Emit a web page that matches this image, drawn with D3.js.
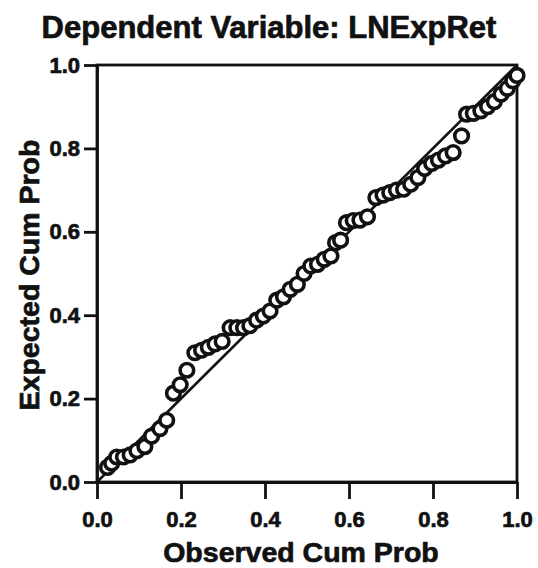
<!DOCTYPE html>
<html>
<head>
<meta charset="utf-8">
<script src="https://cdn.jsdelivr.net/npm/d3@7"></script>
<style>
  body { margin: 0; background: #fff; }
  text { font-family: "Liberation Sans", Arial, sans-serif; font-weight: bold; fill: #111; stroke: #111; stroke-width: 0.7px; }
</style>
</head>
<body>
<div class="pp-figure"></div>
<script>
const w = 538;
const h = 568;

// chart values
const title = "Dependent Variable: LNExpRet";
const xLabel = "Observed Cum Prob";
const yLabel = "Expected Cum Prob";
const tickValues = [0, 0.2, 0.4, 0.6, 0.8, 1.0];

const observed = [
  0.025, 0.035, 0.047, 0.063, 0.079, 0.095, 0.114, 0.13, 0.15, 0.166,
  0.182, 0.198, 0.214, 0.233, 0.249, 0.265, 0.281, 0.298, 0.317, 0.333,
  0.349, 0.364, 0.38, 0.396, 0.412, 0.428, 0.444, 0.46, 0.477, 0.493,
  0.509, 0.525, 0.541, 0.557, 0.568, 0.58, 0.594, 0.61, 0.626, 0.644,
  0.664, 0.681, 0.697, 0.713, 0.73, 0.747, 0.764, 0.78, 0.797, 0.813,
  0.83, 0.848, 0.868, 0.88, 0.896, 0.914, 0.93, 0.946, 0.962, 0.977,
  0.99, 1.0
];
const expected = [
  0.035, 0.045, 0.06, 0.06, 0.065, 0.075, 0.085, 0.11, 0.128, 0.148,
  0.213, 0.233, 0.268, 0.31, 0.316, 0.323, 0.331, 0.337, 0.37, 0.37,
  0.37, 0.375, 0.388, 0.398, 0.41, 0.436, 0.444, 0.462, 0.474, 0.5,
  0.518, 0.522, 0.534, 0.542, 0.574, 0.58, 0.622, 0.627, 0.628, 0.636,
  0.682, 0.688, 0.694, 0.7, 0.702, 0.714, 0.73, 0.752, 0.764, 0.772,
  0.782, 0.79, 0.83, 0.882, 0.884, 0.89, 0.9, 0.912, 0.93, 0.944,
  0.962, 0.975
];

const margin = {top: 65, right: 21, bottom: 86, left: 97};

let svg = d3.select("body").select(".pp-figure")
    .append("svg")
    .attr("width", w)
    .attr("height", h);

let x = d3.scaleLinear()
    .domain([0, 1])
    .range([margin.left, w - margin.right]);

let y = d3.scaleLinear()
    .domain([0, 1])
    .range([h - margin.bottom, margin.top]);

// frame
svg.append("rect")
    .attr("x", x(0))
    .attr("y", y(1))
    .attr("width", x(1) - x(0))
    .attr("height", y(0) - y(1))
    .attr("fill", "none")
    .attr("stroke", "#111")
    .attr("stroke-width", 2.8);

let xAxis = svg.append("g")
    .attr("transform", "translate(0," + y(0) + ")")
    .call(d3.axisBottom(x).tickValues(tickValues).tickFormat(d3.format(".1f"))
        .tickSize(17).tickSizeOuter(0).tickPadding(12));

let yAxis = svg.append("g")
    .attr("transform", "translate(" + x(0) + ",0)")
    .call(d3.axisLeft(y).tickValues(tickValues).tickFormat(d3.format(".1f"))
        .tickSize(13).tickSizeOuter(0).tickPadding(4));

[xAxis, yAxis].forEach(g => {
    g.select(".domain").attr("stroke", "#111").attr("stroke-width", 2.8);
    g.selectAll(".tick line").attr("stroke", "#111").attr("stroke-width", 2.8);
    g.selectAll(".tick text")
        .attr("fill", "#111")
        .style("font-size", "22px")
        .style("font-family", "'Liberation Sans', Arial, sans-serif")
        .style("font-weight", "bold");
});

// reference diagonal
svg.append("line")
    .attr("x1", x(0)).attr("y1", y(0))
    .attr("x2", x(1)).attr("y2", y(1))
    .attr("stroke", "#111")
    .attr("stroke-width", 2.6);

let points = observed.map((o, i) => ({obs: o, exp: expected[i]}));

svg.selectAll("circle")
    .data(points)
    .enter()
    .append("circle")
    .attr("cx", d => x(d.obs))
    .attr("cy", d => y(d.exp))
    .attr("r", 6.8)
    .attr("fill", "#fff")
    .attr("stroke", "#111")
    .attr("stroke-width", 3.6);

svg.append("text")
    .attr("x", 269)
    .attr("y", 38)
    .attr("text-anchor", "middle")
    .style("font-size", "31px")
    .text(title);

svg.append("text")
    .attr("x", 301)
    .attr("y", 562)
    .attr("text-anchor", "middle")
    .style("font-size", "28.5px")
    .text(xLabel);

svg.append("text")
    .attr("transform", "translate(39," + 275 + ") rotate(-90)")
    .attr("text-anchor", "middle")
    .style("font-size", "28.5px")
    .text(yLabel);
</script>
</body>
</html>
